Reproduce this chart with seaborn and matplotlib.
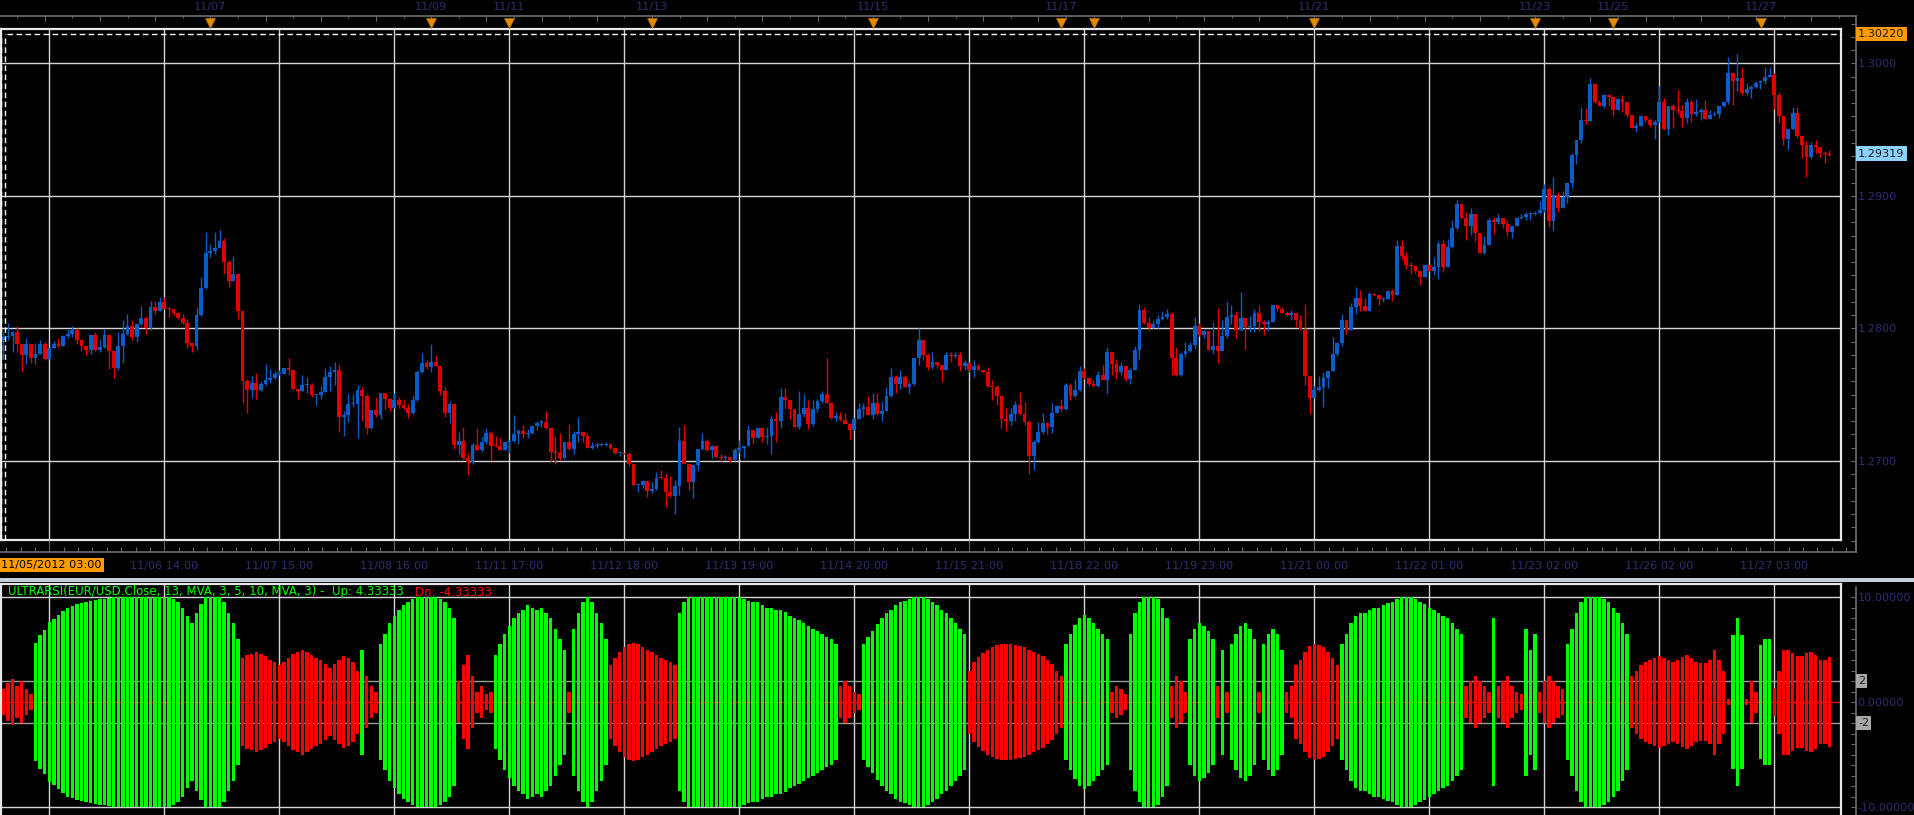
import numpy as np
import pandas as pd
import matplotlib
matplotlib.use("Agg")
import matplotlib.pyplot as plt
import matplotlib.transforms as mtrans
from matplotlib.patches import Rectangle
import seaborn as sns

# ---------------------------------------------------------------- data
BASE_PRICE = 1.2800          # closes/wicks below are in pips relative to this
OPEN_FIRST_PIPS = -9
CLOSE_PIPS = [
    -6.5, -6, -3, -12, -20, -11.5, -22, -19, -11.5, -23, -14.5, -11.5, -13, -6, -4, -1.5, -9, -13, -16, -5,
    -16.5, -14, -5, -17, -30, -13, -4.5, 2, -6.5, 3, 8, 0, 16.5, 13, 20, 15, 14.5, 12, 8, 4,
    -11, -13, 10, 30.5, 57, 58.5, 61, 66, 50, 36, 41, 13.5, -40, -46.5, -41, -46.5, -42, -39, -37.5, -34.5,
    -34, -30, -31, -46, -47, -43, -43, -50, -50, -48, -37, -33, -31.5, -67, -65, -57, -57, -46.5, -51, -75,
    -61.5, -65, -49, -53, -60, -54, -58, -60, -64, -54, -33, -26, -29, -25, -28, -47, -64, -57, -88, -85,
    -98, -101, -88, -92, -86, -79, -88.5, -89, -91.5, -86, -85, -80, -77, -80, -79, -73.5, -71, -70.5, -75, -93,
    -94, -98, -86, -91, -80, -78, -81.5, -90, -88.5, -88, -88, -87.5, -90, -94, -94, -95, -102, -118, -118, -115,
    -123, -121, -112.5, -113, -123.5, -126.5, -118.5, -85, -102, -116, -103, -91, -85, -91.5, -89, -97, -98, -97, -99, -91.5,
    -90, -89, -76.5, -82.5, -75, -82, -81, -68, -70, -52, -54, -61, -74, -64.5, -60, -72, -61, -55, -49.5, -56,
    -67.5, -66, -69, -72, -76.5, -68, -61, -59, -65, -56, -64.5, -62, -51, -37, -42, -37, -44, -42, -22, -9,
    -20, -29, -25, -27.5, -31.5, -20, -20.5, -20, -28, -26, -31.5, -28, -31.5, -33, -43.5, -44, -51, -68, -70, -64.5,
    -58, -64.5, -70.5, -96, -86, -78, -71, -74, -64, -58.5, -61, -43, -51, -46.5, -32, -37.5, -42, -43.5, -35, -39,
    -18, -27, -33, -28.5, -38, -31, -16, 14, 4, 0, 3, 7, 9, 11, -22, -35, -19.5, -17, -12.5, 2,
    -5, -2, -16.5, -13.5, -17, -6, 9, 10.5, -1, 8, 1, 2, 12, 4.5, 3, 5, 18, 15, 12, 10.5,
    12, 6, -1, -36, -52.5, -46.5, -44, -37.5, -32, -19.5, -11, 6, -1.5, 16, 23, 17, 13.5, 26, 25, 22,
    22, 28, 25, 62.5, 55, 48, 47, 43.5, 39, 48, 43.5, 46.5, 64, 46.5, 61.5, 76, 94, 83, 77, 86,
    72, 57, 63, 82, 80.5, 83, 79, 73, 77.5, 83, 84, 86, 86.5, 87, 89, 105, 81, 101, 91, 99,
    110, 131, 142, 157, 156.5, 184.5, 171, 168, 176, 174.5, 165, 173, 171, 161, 151, 153, 160, 157, 153.5, 156,
    171, 150.5, 168, 165, 164, 159, 171, 162, 163, 165, 158, 161, 162, 168, 171, 192.5, 186.5, 189, 177.5, 180.5,
    182, 185, 186.5, 189.5, 191, 176, 160, 143, 150.5, 162.5, 145, 138.5, 129.5, 138.5, 137, 132.5, 131.5, 131,
]
UPPER_WICK_PIPS = [
    4, 10, 1, 4.5, 0, 4, 0, 8, 2.5, 1.5, 0, 2, 4, 1, 2.5, 3, 2, 0, 0, 0,
    2, 6, 4.5, 0, 0, 10, 10.5, 9, 4.5, 0.5, 9, 1.5, 4.5, 4, 4, 4, 1, 0.5, 0.5, 3,
    3, 0, 6.5, 8.5, 16, 5, 12, 8, 2.5, 1.5, 14, 0, 0, 1.5, 5, 7.5, 2, 12, 7, 2.5,
    2.5, 0.5, 8, 0, 1, 7.5, 6, 1.5, 0, 4.5, 7, 5, 6, 5, 3, 7.5, 7.5, 4, 2, 1.5,
    0, 10, 0.5, 0, 0.5, 5, 2.5, 5, 3, 4, 2, 7.5, 2, 13, 5, 0, 3, 2, 0, 7,
    10.5, 4, 1.5, 13, 4, 4, 2, 7, 6, 0, 1, 15, 1.5, 4, 3, 0, 1.5, 1.5, 8, 0,
    12, 15, 0, 14, 3, 11, 0, 2.5, 3, 2, 1.5, 1.5, 1, 0, 0, 0, 1.5, 0, 0, 1,
    0, 5, 4, 6, 3, 12.5, 4, 11, 12.5, 0, 0, 0, 6, 1.5, 1, 1, 2, 1.5, 0, 1.5,
    6, 0, 4, 0, 0, 0, 7, 3, 5, 7, 7, 0, 0, 17, 10.5, 6, 7, 2, 2, 27,
    0.5, 3, 3, 5, 0.5, 0.5, 4.5, 3, 8, 7.5, 7, 7, 7, 7.5, 1.5, 6, 1.5, 1.5, 0, 9,
    0, 1.5, 7, 0, 0, 2, 2.5, 2, 2, 2, 1, 4, 1.5, 0, 4, 4.5, 1.5, 0, 8, 4.5,
    3, 10, 9, 1.5, 1.5, 7.5, 7, 0, 8, 0.5, 5, 2, 1.5, 8, 4, 2, 0, 3, 3, 7.5,
    4, 0, 4, 3, 0, 1.5, 3, 4.5, 2, 4.5, 3, 3, 4.5, 4, 1.5, 8, 1.5, 7, 2, 7,
    2, 1, 0, 18, 29, 12, 11, 7, 3, 19.5, 0, 7.5, 3, 6, 1.5, 1, 0, 0, 1, 1.5,
    2, 0, 4, 19.5, 0, 3, 8, 5, 0, 13, 1, 5, 1.5, 3, 8, 6, 6, 1.5, 1, 0,
    1, 0, 1.5, 4, 4, 3, 2.5, 0, 0, 0, 0, 7.5, 2, 3, 6, 6, 3, 0.5, 4.5, 4.5,
    0, 0, 7, 1, 2, 3, 0, 3, 0, 0, 2.5, 2, 1.5, 1.5, 7.5, 4, 2, 13, 2, 5,
    0, 1, 0, 10, 9, 4.5, 0, 1.5, 1, 1, 0, 0, 3, 0, 0, 2, 0, 0, 2, 1.5,
    12, 3, 0, 1, 15, 4.5, 3, 1, 10, 1, 7.5, 4, 2, 0, 0, 12, 0, 18, 8, 4.5,
    2, 2, 1, 7.5, 6, 2, 2, 0, 0, 4.5, 4.5, 1, 3, 2, 4, 0, 1, 3,
]
LOWER_WICK_PIPS = [
    14, 2, 12, 6, 13, 7, 4, 5, 0, 1, 0, 0.5, 1, 0.5, 1.5, 2.5, 2.5, 4, 4, 3,
    0.5, 1, 0.5, 13.5, 7.5, 1, 13, 0.5, 2, 4, 0.5, 4, 1, 2, 0, 0.5, 6, 1.5, 1, 0.5,
    3.5, 5, 3, 0.5, 0.5, 3, 2, 0.5, 9, 5, 0.5, 6.5, 16, 17.5, 6, 7, 0.5, 0.5, 2, 1,
    1, 0.5, 4, 0.5, 6, 0.5, 5.5, 2, 7.5, 3, 0, 10, 10, 11, 14, 5.5, 2.5, 26, 18.5, 4.5,
    0.5, 2, 3, 8, 2, 0, 2, 1, 3.5, 0.5, 1, 0.5, 1.5, 4, 0.5, 3, 3, 7.5, 3, 7,
    0.5, 9.5, 1, 0.5, 1, 1, 10.5, 0.5, 0, 0, 8, 1, 7, 3, 2.5, 0.5, 3, 3, 0.5, 7.5,
    8, 1, 0.5, 1, 4, 5.5, 4, 0.5, 1, 1.5, 1, 1, 1, 0.5, 2, 0, 2, 0.5, 5.5, 2,
    4.5, 1, 1, 0.5, 11, 1, 13.5, 7.5, 0.5, 6, 12, 4.5, 0.5, 1, 6, 0, 2, 1, 2, 0,
    2.5, 8, 0, 4.5, 0, 4, 5, 13.5, 16, 5, 6, 7.5, 0.5, 2, 2, 4, 1.5, 2, 1.5, 0,
    0.5, 2, 0.5, 0, 7, 0, 0, 6, 0, 3.5, 1, 5, 0.5, 0.5, 7, 4, 0, 4.5, 0.5, 5.5,
    3.5, 2, 1.5, 2, 9, 0, 4.5, 2, 4, 3, 1, 5, 0, 0.5, 0.5, 10, 7, 7, 7, 3,
    5, 0.5, 2, 14, 10.5, 0.5, 2, 6, 5, 0, 1, 0.5, 3, 1, 1, 0.5, 1.5, 0.5, 1, 0,
    10, 8, 5, 2, 2, 4, 0.5, 7, 0.5, 1.5, 0, 3, 0.5, 2, 13, 1, 1, 2, 0.5, 2,
    0.5, 2, 0, 2, 9, 0, 1, 5.5, 6, 1, 16.5, 4, 4.5, 6.5, 8, 5, 0, 2, 0, 1,
    4.5, 5, 0, 7, 12, 0, 1, 15, 7.5, 0, 1.5, 2.5, 3, 0, 5, 4, 0, 0, 0.5, 4.5,
    2, 0, 4, 0, 3.5, 3, 6, 1.5, 6, 0, 0, 3, 9, 4, 0, 0.5, 2, 0, 10, 6.5,
    6, 0, 1, 0, 9, 2, 3, 3, 5, 0.5, 0.5, 2, 4, 1, 1, 1, 4.5, 7.5, 3, 0,
    4, 4, 7, 2, 2.5, 0, 1, 0, 1.5, 7, 4.5, 0, 8, 1.5, 0, 3, 0, 1, 1.5, 10.5,
    0.5, 1, 4.5, 13.5, 1.5, 7, 4, 6, 2, 6, 0, 0, 1, 3, 1, 2, 18, 7, 1.5, 1.5,
    7, 0.5, 4.5, 2, 0, 10.5, 5, 4.5, 8, 0.5, 1.5, 10, 15, 2, 4.5, 3, 7, 1,
]
# ULTRARSI histogram: +v = green bar spanning -v..+v, -v = red bar spanning -v..+v
ULTRARSI = [
    -1.2, -1.8, -2.2, -1.5, -2.0, -1.2, -0.8,
    5.6, 6.4, 6.9, 7.6, 7.9, 8.3, 8.7, 9.0, 9.1, 9.3, 9.4, 9.5, 9.6, 9.7, 9.8, 9.8, 9.9, 10, 10, 10,
    10, 10, 10, 10, 10, 10, 10, 10, 10, 10, 9.8, 9.5, 9.0, 8.2, 7.5, 8.5, 9.3, 10, 10, 10,
    10, 9.5, 8.5, 7.5, 6.0,
    -4.2, -4.5, -4.6, -4.8, -4.6, -4.4, -4.0, -3.8, -3.5, -3.8, -4.2, -4.6, -4.8, -5.0, -4.8, -4.5,
    -4.2, -4.0, -3.6, -3.2, -3.6, -4.0, -4.4, -4.2, -3.8, -3.0,
    5.0, -2.5, -1.5, -1.0,
    5.5, 6.5, 7.5, 8.2, 8.8, 9.2, 9.5, 9.8, 10, 10, 10, 10, 10, 9.8, 9.5, 9.0, 8.0,
    -2.0, -3.5, -4.5, -2.5, -1.0, -1.5, -0.8, -1.0,
    4.5, 5.5, 6.5, 7.2, 8.0, 8.5, 8.8, 9.2, 9.0, 8.8, 9.0, 8.5, 8.0, 7.0, 6.0, 5.0,
    -1.0,
    7.0, 8.5, 9.5, 10, 9.5, 8.5, 7.5, 6.0,
    -3.5, -4.2, -4.8, -5.2, -5.5, -5.6, -5.5, -5.2, -5.0, -4.8, -4.5, -4.2, -4.0, -3.8, -3.5,
    8.5, 9.5, 10, 10, 10, 10, 10, 10, 10, 10, 10, 10, 10, 10,
    9.8, 9.6, 9.5, 9.5, 9.2, 9.0, 9.0, 8.8, 8.8, 8.6, 8.2, 8.0, 7.8, 7.5, 7.2, 7.0, 6.8, 6.5, 6.2, 6.0, 5.5,
    -1.5, -2.0, -1.5, -1.0, -0.8,
    5.5, 6.2, 6.8, 7.4, 8.0, 8.5, 8.8, 9.2, 9.5, 9.6, 9.8, 10, 10, 10, 9.8, 9.5, 9.2, 8.8, 8.5, 8.0, 7.5, 7.0, 6.5,
    -3.0, -3.8, -4.3, -4.7, -5.0, -5.2, -5.4, -5.5, -5.5, -5.5, -5.4, -5.3, -5.2, -5.0, -4.8, -4.6,
    -4.4, -4.0, -3.6, -3.0, -2.5,
    5.5, 6.5, 7.3, 8.0, 8.3, 8.0, 7.5, 7.0, 6.5, 6.0,
    -1.0, -1.5, -1.2, -0.8,
    6.5, 8.5, 9.5, 10, 10, 10, 9.8, 9.0, 8.0,
    -1.5, -2.5, -2.0, -1.0,
    6.0, 7.0, 7.5, 7.2, 6.8, 6.0,
    -1.5, 5.0, -1.0,
    5.5, 6.5, 7.2, 7.5, 7.0, 6.0,
    -1.0, 5.5, 6.5, 7.0, 6.5, 5.0,
    -1.0, -1.5,
    -3.5, -4.0, -4.8, -5.3, -5.5, -5.4, -5.2, -4.8, -4.2, -3.5,
    5.5, 6.5, 7.5, 8.2, 8.5, 8.5, 8.8, 9.0, 9.0, 9.2, 9.4, 9.5, 9.8, 10, 10, 10, 9.8, 9.5, 9.3, 9.0,
    8.8, 8.5, 8.2, 8.0, 7.5, 7.0, 6.5,
    -1.5, -2.0, -2.5, -2.0, -1.5, -1.0, 8.0, -1.5, -2.0, -2.5, -1.5, -1.0, -0.8, 7.0, 5.0, 6.5,
    -1.0, -2.0, -2.5, -2.0, -1.5, -1.2,
    5.5, 7.0, 8.5, 9.5, 10, 10, 10, 10, 9.8, 9.5, 9.0, 8.5, 7.5, 6.5,
    -2.5, -3.0, -3.5, -3.8, -4.0, -4.2, -4.4, -4.2, -4.0, -3.8, -4.0, -4.3, -4.5, -4.2, -3.8,
    -3.7, -3.7, -4.0, -5.0, -4.0, -3.0, -0.3, 6.4, 8.0, 6.4, -0.3, -2.0, -1.0, 5.4, 6.0, 6.0,
    -1.3, -3.0, -5.0, -5.0, -4.7, -4.4, -4.4, -4.7, -4.8, -4.5, -4.0, -4.0, -4.33,
]
GRID_BARS = [10, 35, 60, 85, 110, 135, 160, 185, 210, 235, 260, 285, 310, 335, 360, 385]
GRID_LABELS = ["", "11/06 14:00", "11/07 15:00", "11/08 16:00", "11/11 17:00", "11/12 18:00",
               "11/13 19:00", "11/14 20:00", "11/15 21:00", "11/18 22:00", "11/19 23:00",
               "11/21 00:00", "11/22 01:00", "11/23 02:00", "11/26 02:00", "11/27 03:00"]
START_LABEL = "11/05/2012 03:00"
EVENT_BARS = [45, 93, 110, 141, 189, 230, 237, 285, 333, 350, 382]
EVENT_LABELS = ["11/07", "11/09", "11/11", "11/13", "11/15", "11/17", "", "11/21", "11/23", "11/25", "11/27"]
PRICE_TICKS = [1.2700, 1.2800, 1.2900, 1.3000]
PRICE_LABELS = ["1.2700", "1.2800", "1.2900", "1.3000"]
HIGH_MARK = 1.30220
LAST_PRICE = 1.29319
IND_TICKS = [10, 0, -10]
IND_LABELS = ["10.00000", "0.00000", "-10.00000"]
IND_BANDS = [2, -2]
IND_TITLE = "ULTRARSI(EUR/USD.Close, 13, MVA, 3, 5, 10, MVA, 3) -  Up: 4.33333"
IND_DN_TEXT = "Dn: -4.33333"

assert len(CLOSE_PIPS) == len(UPPER_WICK_PIPS) == len(LOWER_WICK_PIPS) == len(ULTRARSI) == 398

# ---------------------------------------------------------------- style
sns.set_theme(style="dark")
plt.rcParams["font.family"] = ["DejaVu Sans"]
BG = "black"
GRID_C = "#D4D4D4"
FRAME_C = "#E6E6E6"
AXIS_C = "#6A6A6A"
LABEL_C = "#2E3070"
UP_C, DN_C = "#0A5CC8", "#E00000"
IND_UP_C, IND_DN_C = "#00FF00", "#FF0000"
FS = 8.1
FS_TITLE = 8.45

W, H = 1915, 815
fig = plt.figure(figsize=(W / 100, H / 100), dpi=100, facecolor=BG)


def box(x0, y0, x1, y1):
    return fig.add_axes([x0 / W, 1 - y1 / H, (x1 - x0) / W, (y1 - y0) / H])


def clean(a):
    a.set_facecolor(BG)
    a.set_xlabel("")
    a.set_ylabel("")
    a.grid(False)
    for s in a.spines.values():
        s.set_visible(False)
    a.tick_params(left=False, bottom=False, labelleft=False, labelbottom=False)


XLIM = (-0.5, 399.5)            # panel spans x = 1..1841 px
XLIM_WIDE = (-0.7174, 402.76)   # strips spanning x = 0..1856 px
P_TOP, P_BOT = 1.30259, 1.26404
S = 511 / (P_TOP - P_BOT)
I_TOP, I_BOT = 11.24, -10.76

# ---------------------------------------------------------------- price panel
df = pd.DataFrame({"close": BASE_PRICE + np.array(CLOSE_PIPS) / 1e4})
df["bar"] = np.arange(len(df))
df["open"] = df["close"].shift(1).fillna(BASE_PRICE + OPEN_FIRST_PIPS / 1e4)
df["high"] = df[["open", "close"]].max(axis=1) + np.array(UPPER_WICK_PIPS) / 1e4
df["low"] = df[["open", "close"]].min(axis=1) - np.array(LOWER_WICK_PIPS) / 1e4
df["up"] = df["close"] >= df["open"]
col = np.where(df["up"], UP_C, DN_C)

ax = box(1, 29, 1841, 540)
clean(ax)
ax.set_xlim(XLIM)
ax.set_ylim(P_BOT, P_TOP)
for g in GRID_BARS:
    ax.axvline(g, color=GRID_C, lw=1.0, zorder=1)
for p in PRICE_TICKS:
    ax.axhline(p, color=GRID_C, lw=1.0, zorder=1)
ax.vlines(df["bar"], df["low"], df["high"], colors=col, lw=1.0, zorder=3)
body_b = df[["open", "close"]].min(axis=1)
body_h = np.maximum((df["close"] - df["open"]).abs(), 0.00008)
ax.bar(df["bar"], body_h, bottom=body_b, width=0.8, color=col, linewidth=0, zorder=4)
ax.axhline(HIGH_MARK, xmin=0.003, color="white", lw=1.0, ls=(0, (4, 2.5)), zorder=5)
for xv in (-0.43, 0.46):
    ax.plot([xv, xv], [P_BOT, HIGH_MARK], color="white", lw=1.0, ls=(0, (4, 2.5)), zorder=5)
for s in ax.spines.values():
    s.set_visible(True)
    s.set_color(FRAME_C)
    s.set_linewidth(1.6)

# top event strip
tax = box(0, 16, 1856, 29)
clean(tax)
tax.patch.set_alpha(0)
tax.set_xlim(XLIM_WIDE)
tax.set_ylim(0, 1)
tax.spines["top"].set_visible(True)
tax.spines["top"].set_color(AXIS_C)
tax.xaxis.set_ticks_position("top")
tax.set_xticks(np.arange(9, 403, 12))
tax.set_xticks(np.arange(3, 403, 12), minor=True)
tax.tick_params(axis="x", which="major", top=True, direction="in", length=3.8, width=0.8,
                color=AXIS_C, labeltop=False)
tax.tick_params(axis="x", which="minor", top=True, direction="in", length=1.5, width=0.8,
                color=AXIS_C, labeltop=False)
tax.plot(EVENT_BARS, [0.48] * len(EVENT_BARS), ls="none", marker="v", ms=7.5,
         color="#E08A00", mec="#B86E00", mew=0.5, clip_on=False, zorder=5)
tr_top = mtrans.blended_transform_factory(tax.transData, fig.transFigure)
for b, lab in zip(EVENT_BARS, EVENT_LABELS):
    tax.text(b, 1 - 7 / H, lab, transform=tr_top, ha="center", va="center",
             color=LABEL_C, fontsize=FS)

# bottom time strip
bax = box(0, 540, 1856, 552)
clean(bax)
bax.patch.set_alpha(0)
bax.set_xlim(XLIM_WIDE)
bax.spines["bottom"].set_visible(True)
bax.spines["bottom"].set_color(AXIS_C)
bax.spines["right"].set_visible(True)
bax.spines["right"].set_color(AXIS_C)
bax.set_xticks(GRID_BARS)
bax.set_xticks(np.arange(10 - 25 / 8 * 3, 402, 25 / 8), minor=True)
bax.tick_params(axis="x", which="major", bottom=True, direction="in", length=8.6, width=0.8,
                color=AXIS_C, labelbottom=False)
bax.tick_params(axis="x", which="minor", bottom=True, direction="in", length=3.5, width=0.8,
                color=AXIS_C, labelbottom=False)
tr_bot = mtrans.blended_transform_factory(bax.transData, fig.transFigure)
for b, lab in zip(GRID_BARS, GRID_LABELS):
    if lab:
        bax.text(b, 1 - 566 / H, lab, transform=tr_bot, ha="center", va="center",
                 color=LABEL_C, fontsize=FS)
fig.text(1.5 / W, 1 - 565 / H, START_LABEL, ha="left", va="center", color="black", fontsize=FS,
         bbox=dict(boxstyle="square,pad=0.2", fc="#FF9A00", ec="none"))

# right price axis
rax = box(1846, 16, 1856, 552)
clean(rax)
rax.patch.set_alpha(0)
rax.set_ylim(P_BOT - 12 / S, P_TOP + 13 / S)
rax.spines["right"].set_visible(True)
rax.spines["right"].set_color(AXIS_C)
rax.yaxis.set_ticks_position("right")
rax.set_yticks(PRICE_TICKS)
rax.set_yticklabels(PRICE_LABELS)
rax.set_yticks(np.arange(1.264, 1.3036, 0.001), minor=True)
rax.tick_params(axis="y", which="both", right=True, direction="in", length=3.8, width=0.8,
                color=AXIS_C, labelright=True, labelsize=FS, labelcolor=LABEL_C, pad=1.2)
rax.tick_params(axis="y", which="minor", labelright=False)
tr_r = mtrans.blended_transform_factory(fig.transFigure, rax.transData)
fig.text(1858 / W, HIGH_MARK, "1.30220", transform=tr_r, ha="left", va="center", fontsize=FS,
         color="#1A1A1A", bbox=dict(boxstyle="square,pad=0.2", fc="#FF9A00", ec="none"))
fig.text(1858 / W, LAST_PRICE, "1.29319", transform=tr_r, ha="left", va="center", fontsize=FS,
         color="#1A1A1A", bbox=dict(boxstyle="square,pad=0.2", fc="#8CD2FF", ec="none"))

# separator band
fig.add_artist(Rectangle((0, 1 - 582 / H), 1, 4.5 / H, transform=fig.transFigure,
                         facecolor="#C6CED8", edgecolor="none"))

# ---------------------------------------------------------------- indicator panel
ind = pd.DataFrame({"bar": np.arange(len(ULTRARSI)), "val": ULTRARSI})
ind["amp"] = ind["val"].abs()
ind["neg"] = -ind["amp"]
ind["dir"] = np.where(ind["val"] >= 0, "Up", "Dn")

iax = box(1, 584, 1841, 815)
iax.set_facecolor(BG)
for g in GRID_BARS:
    iax.axvline(g, color=GRID_C, lw=1.0, zorder=0.5)
for v in (10, -10):
    iax.axhline(v, color=GRID_C, lw=1.0, zorder=0.5)
for v in IND_BANDS:
    iax.axhline(v, color="#9A9A9A", lw=1.0, zorder=0.5)
pal = {"Up": IND_UP_C, "Dn": IND_DN_C}
for ycol in ("amp", "neg"):
    sns.barplot(data=ind, x="bar", y=ycol, hue="dir", palette=pal, native_scale=True,
                width=0.78, errorbar=None, dodge=False, legend=False, saturation=1,
                linewidth=0, ax=iax, zorder=3)
iax.axhline(0, color=IND_DN_C, lw=1.0, zorder=2)
clean(iax)
iax.set_xlim(XLIM)
iax.set_ylim(I_BOT, I_TOP)
for side in ("top", "left", "right"):
    iax.spines[side].set_visible(True)
    iax.spines[side].set_color(FRAME_C)
    iax.spines[side].set_linewidth(1.6)

fig.text(8 / W, 1 - 592 / H, IND_TITLE, ha="left", va="center", color=IND_UP_C, fontsize=FS_TITLE)
fig.text(415 / W, 1 - 592 / H, IND_DN_TEXT, ha="left", va="center", color=IND_DN_C, fontsize=FS_TITLE)

irax = box(1846, 587, 1856, 815)
clean(irax)
irax.patch.set_alpha(0)
irax.set_ylim(I_BOT, I_TOP - 3 / 10.5)
irax.spines["right"].set_visible(True)
irax.spines["right"].set_color(AXIS_C)
irax.yaxis.set_ticks_position("right")
irax.set_yticks(IND_TICKS)
irax.set_yticklabels(IND_LABELS)
irax.set_yticks(np.arange(-10, 11, 1), minor=True)
irax.tick_params(axis="y", which="both", right=True, direction="in", length=3.8, width=0.8,
                 color=AXIS_C, labelright=True, labelsize=FS, labelcolor=LABEL_C, pad=1.2)
irax.tick_params(axis="y", which="minor", labelright=False)
tr_ir = mtrans.blended_transform_factory(fig.transFigure, irax.transData)
for v in IND_BANDS:
    fig.text(1858 / W, v, str(v), transform=tr_ir, ha="left", va="center", fontsize=FS,
             color="#1A1A1A", bbox=dict(boxstyle="square,pad=0.15", fc="#A8A8A8", ec="none"))

fig.savefig("out.png", dpi=100, facecolor=BG)
